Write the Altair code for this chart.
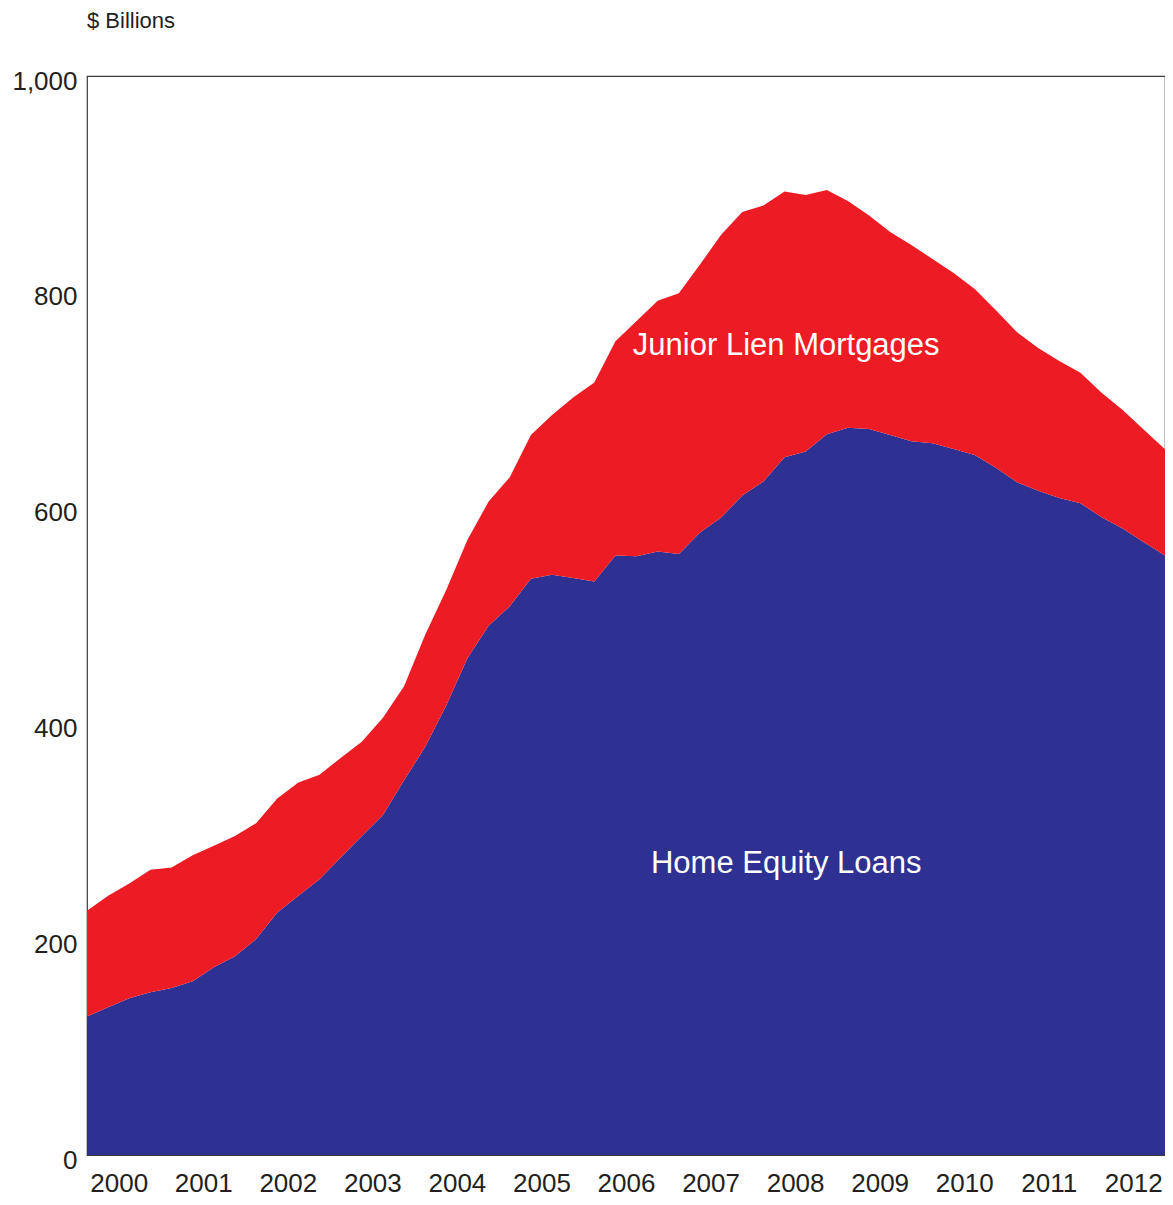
import altair as alt
import pandas as pd

# Quarterly observations, 2000 Q1 .. 2012 Q4 ($ billions)
quarters = [f"{y}Q{q}" for y in range(2000, 2013) for q in range(1, 5)]

home_equity = [
    128.3, 136.9, 145.2, 150.8, 154.8, 161.0, 173.9, 184.1,
    200.1, 224.8, 240.2, 255.6, 275.7, 295.7, 315.2, 347.4,
    378.4, 416.8, 460.7, 490.6, 508.5, 534.0, 537.7, 534.7,
    531.6, 555.7, 555.0, 559.4, 556.9, 577.0, 590.8, 611.2,
    624.1, 646.6, 651.9, 667.9, 674.1, 672.8, 667.3, 661.5,
    659.7, 654.2, 648.7, 636.9, 623.5, 615.6, 609.0, 604.1,
    591.1, 580.6, 568.0, 555.7,
]

total = [
    226.4, 240.2, 251.6, 264.3, 266.4, 277.8, 286.5, 295.7,
    307.4, 330.5, 345.3, 352.5, 368.0, 383.0, 405.2, 434.5,
    482.2, 523.9, 570.1, 605.6, 628.1, 667.3, 685.8, 702.1,
    716.0, 754.2, 773.0, 791.6, 798.6, 825.2, 852.9, 873.9,
    880.0, 893.0, 889.6, 894.3, 884.1, 870.8, 855.4, 843.4,
    830.4, 817.5, 802.7, 782.9, 762.6, 747.8, 735.8, 725.0,
    706.5, 690.4, 672.1, 654.0,
]

series_names = ["Home Equity Loans", "Junior Lien Mortgages"]
series_colors = ["#2E3192", "#ED1C24"]
year_labels = list(range(2000, 2013))
y_ticks = [0, 200, 400, 600, 800, 1000]

label_text = ["Junior Lien Mortgages", "Home Equity Loans"]
label_t = [2008.27, 2008.27]
label_v = [750, 270]

FONT = "Liberation Sans"
TXT = "#231F20"

rows = []
for i, qs in enumerate(quarters):
    yr, q = int(qs[:4]), int(qs[-1])
    t = yr + (q - 1) * 0.25
    rows.append({"t": t, "series": series_names[0], "value": home_equity[i], "rank": 0})
    rows.append({"t": t, "series": series_names[1], "value": round(total[i] - home_equity[i], 1), "rank": 1})
df = pd.DataFrame(rows)
labels_df = pd.DataFrame({"t": label_t, "v": label_v, "text": label_text})

x_scale = alt.Scale(domain=[2000, 2012.75], nice=False, zero=False)
y_scale = alt.Scale(domain=[0, 1000], nice=False)

areas = alt.Chart(df).mark_area(interpolate="linear", opacity=1).encode(
    x=alt.X("t:Q", scale=x_scale, title=None,
            axis=alt.Axis(values=[y + 0.375 for y in year_labels],
                          labelExpr="floor(datum.value)",
                          ticks=False, domain=False, grid=False,
                          labelFont=FONT, labelFontSize=26, labelColor=TXT,
                          labelPadding=15, labelFlush=False)),
    y=alt.Y("value:Q", stack="zero", scale=y_scale, title=None,
            axis=alt.Axis(values=y_ticks, format=",d", ticks=False, domain=False,
                          grid=False, labelFont=FONT, labelFontSize=26,
                          labelColor=TXT, labelPadding=10, labelOffset=5)),
    color=alt.Color("series:N", legend=None,
                    scale=alt.Scale(domain=series_names, range=series_colors)),
    order=alt.Order("rank:Q"),
)

texts = alt.Chart(labels_df).mark_text(
    color="white", font=FONT, fontSize=31, align="center", baseline="middle"
).encode(
    x=alt.X("t:Q", scale=x_scale),
    y=alt.Y("v:Q", scale=y_scale),
    text="text:N",
)

chart = alt.layer(areas, texts).properties(
    width=1078,
    height=1079,
    autosize="none",
    padding={"left": 79, "top": 68, "right": 0, "bottom": 42},
    title=alt.TitleParams("$ Billions", anchor="start", frame="group",
                          font=FONT, fontSize=22, fontWeight="normal",
                          color=TXT, offset=35),
).configure_view(
    stroke="#3A3A3A", strokeWidth=1.2
)

chart.save("out.html", embed_options={"renderer": "svg", "actions": False})
